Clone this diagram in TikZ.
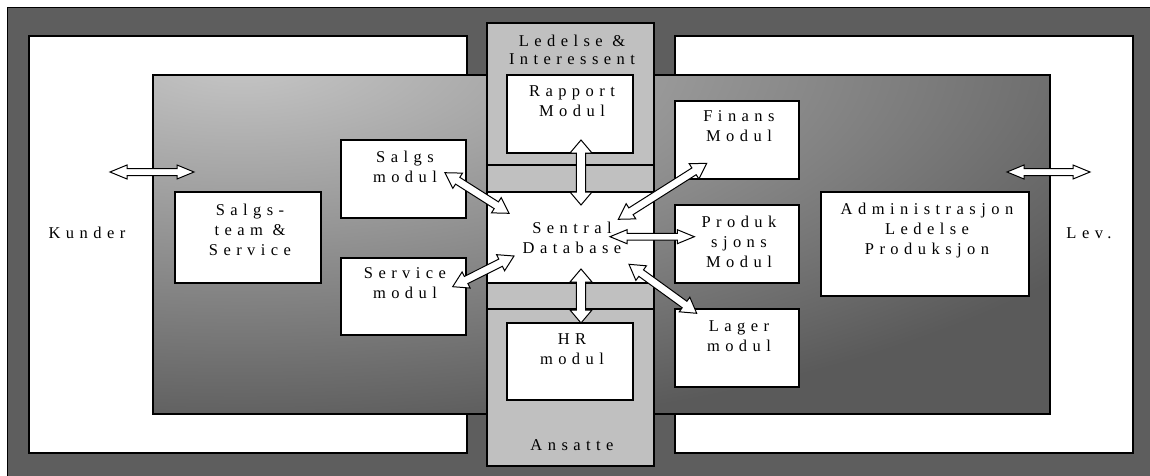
\documentclass[tikz,border=0pt]{standalone}
\usepackage{fontspec}
\setmainfont{Liberation Serif}[LetterSpace=33]
\usetikzlibrary{calc}
\definecolor{bgdark}{HTML}{5E5E5E}
\definecolor{colgray}{HTML}{C0C0C0}
\definecolor{gradlight}{HTML}{C6C6C6}
\definecolor{graddark}{HTML}{5A5A5A}
\tikzset{
  wbox/.style={draw=black, line width=1.2pt, fill=white, inner sep=0pt, outer sep=0pt},
  gbox/.style={draw=black, line width=1.2pt, fill=colgray, inner sep=0pt, outer sep=0pt},
  frame/.style={draw=black, line width=1.2pt, inner sep=0pt, outer sep=0pt},
  lbl/.style={align=center, inner sep=0pt, anchor=north, font=\fontsize{16.5}{20}\selectfont},
  blockarrow/.style={draw=black, line width=1pt, fill=white, line join=miter},
}
\newcommand\boxat[6]{%
  \node[#6, minimum width={(#4-#2)*1pt}, minimum height={(#5-#3)*1pt}] (#1) at ({(#2+#4)/2},{(#3+#5)/2}) {};}
\newcommand\dblarrow[5]{%
  \coordinate (ha) at ($(#1)!#5!(#2)$);
  \coordinate (hb) at ($(#2)!#5!(#1)$);
  \draw[blockarrow] (#1) -- ($(ha)!#4!90:(#2)$) -- ($(ha)!#3!90:(#2)$) -- ($(hb)!#3!-90:(#1)$) -- ($(hb)!#4!-90:(#1)$) -- (#2) -- ($(hb)!#4!90:(#1)$) -- ($(hb)!#3!90:(#1)$) -- ($(ha)!#3!-90:(#2)$) -- ($(ha)!#4!-90:(#2)$) -- cycle;}
\begin{document}
\begin{tikzpicture}[x=1pt,y=-1pt]
\useasboundingbox (0,0) rectangle (1150,476);
\draw[line width=1pt, fill=bgdark] (7,8) rectangle (1162,488);
\boxat{leftw}{29}{36}{467}{453}{wbox}
\boxat{rightw}{675}{36}{1133}{453}{wbox}
% gradient area
\begin{scope}
  \clip (153,75) rectangle (1050,414);
  \fill[graddark] (153,75) rectangle (1050,414);
  \shade[inner color=gradlight, outer color=graddark] (240,60) ellipse [x radius=1000, y radius=380];
\end{scope}
\boxat{inner}{153}{75}{1050}{414}{frame}
% center column
\boxat{col}{487}{23}{654}{466}{gbox}
\boxat{ledelse}{487}{23}{654}{165}{gbox}
\boxat{ansatte}{487}{309}{654}{466}{gbox}
\boxat{sentral}{487}{192}{654}{283}{wbox}
\boxat{rapport}{507}{75}{633}{153}{wbox}
\boxat{hr}{507}{323}{633}{400}{wbox}
% left boxes
\boxat{salgsm}{341}{140}{466}{218}{wbox}
\boxat{servm}{341}{258}{466}{335}{wbox}
\boxat{salgst}{175}{192}{321}{283}{wbox}
% right boxes
\boxat{finans}{675}{101}{799}{179}{wbox}
\boxat{produk}{675}{205}{799}{283}{wbox}
\boxat{lager}{675}{309}{799}{387}{wbox}
\boxat{admin}{821}{192}{1029}{296}{wbox}
% texts
\node[lbl] (t-kunder) at (87,227.2) {Kunder};
\node[lbl] (t-lev) at (1089,227.2) {Lev.};
\node[lbl, font=\fontsize{16.5}{18}\selectfont] (t-ledelse) at (572,34.9) {Ledelse \&\\Interessent};
\node[lbl] (t-ansatte) at (572,439.9) {Ansatte};
\node[lbl] (t-sentral) at (572,222.2) {Sentral\\Database};
\node[lbl] (t-rapport) at (572,85.6) {Rapport\\Modul};
\node[lbl] (t-hr) at (572,333.2) {HR\\modul};
\node[lbl] (t-salgsm) at (405,150.6) {Salgs\\modul};
\node[lbl] (t-servm) at (405,267.2) {Service\\modul};
\node[lbl] (t-salgst) at (250,203.9) {Salgs-\\team \&\\Service};
\node[lbl] (t-finans) at (739,110.6) {Finans\\Modul};
\node[lbl] (t-produk) at (739,215.6) {Produk\\sjons\\Modul};
\node[lbl] (t-lager) at (739,320.6) {Lager\\modul};
\node[lbl] (t-admin) at (927,203.2) {Administrasjon\\Ledelse\\Produksjon};
% arrow end points
\coordinate (aL1) at (110,172); \coordinate (aL2) at (194,172);
\coordinate (aR1) at (1007,172); \coordinate (aR2) at (1090,172);
\coordinate (aRap1) at (581,140); \coordinate (aRap2) at (581,205);
\coordinate (aHR1) at (581,269); \coordinate (aHR2) at (581,323);
\coordinate (aSa1) at (445,172.7); \coordinate (aSa2) at (509,213.3);
\coordinate (aSe1) at (452.7,286.7); \coordinate (aSe2) at (514,256);
\coordinate (aFi1) at (618.3,219.3); \coordinate (aFi2) at (706.7,163.3);
\coordinate (aPr1) at (610,236.7); \coordinate (aPr2) at (694.3,236.7);
\coordinate (aLa1) at (629,264.3); \coordinate (aLa2) at (696.7,313.3);
\dblarrow{aL1}{aL2}{3.5pt}{7pt}{17pt}
\dblarrow{aR1}{aR2}{3.5pt}{7pt}{17pt}
\dblarrow{aPr1}{aPr2}{3.4pt}{7pt}{17pt}
\dblarrow{aRap1}{aRap2}{4.7pt}{11pt}{13pt}
\dblarrow{aHR1}{aHR2}{4.7pt}{11pt}{13pt}
\dblarrow{aSa1}{aSa2}{4pt}{9pt}{15pt}
\dblarrow{aSe1}{aSe2}{4pt}{9pt}{15pt}
\dblarrow{aFi1}{aFi2}{4pt}{9pt}{15pt}
\dblarrow{aLa1}{aLa2}{4pt}{9pt}{15pt}
\end{tikzpicture}
\end{document}
